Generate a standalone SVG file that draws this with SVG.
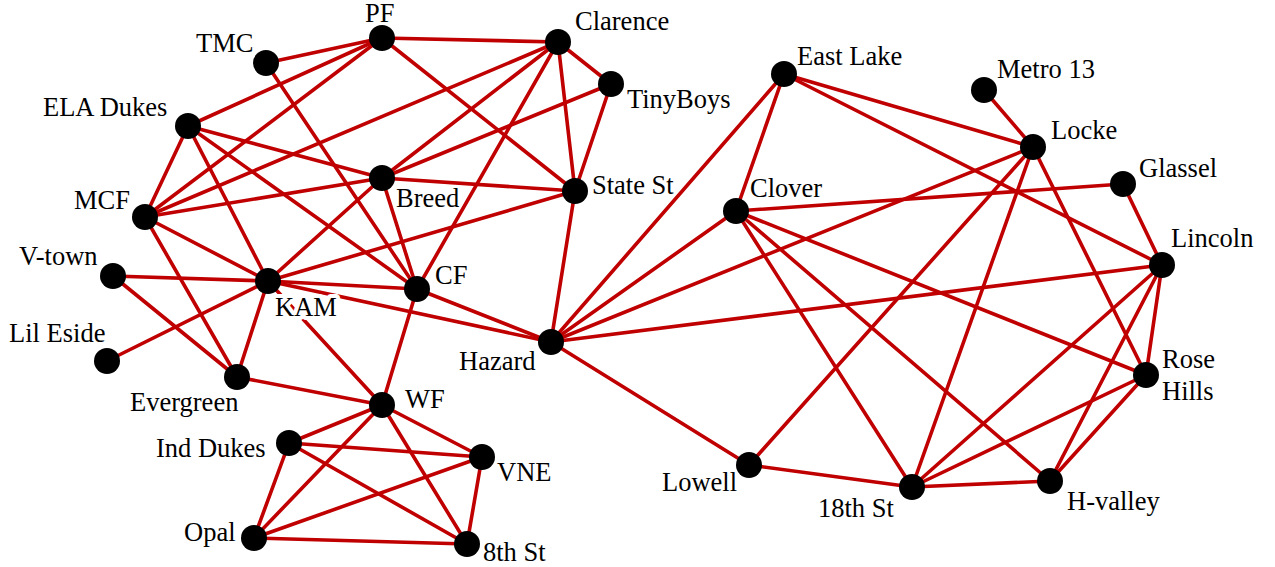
<svg xmlns="http://www.w3.org/2000/svg" width="1275" height="567" viewBox="0 0 1275 567">
  <style>
    .edges line { stroke: #c00000; stroke-width: 3.6; stroke-linecap: round; }
    .node circle { fill: #000; }
    .node text { font-family: "Times New Roman", Times, "Liberation Serif", Tinos, "Noto Serif", "DejaVu Serif", serif; font-size: 26.5px; fill: #000; }
    .node text.halo { stroke: #fff; stroke-width: 8; paint-order: stroke; stroke-linejoin: round; }
  </style>
  <rect x="0" y="0" width="1275" height="567" fill="#fff"/>

  <g id="connectors" class="edges">
    <!-- western cluster -->
    <line x1="266" y1="63" x2="382" y2="38"/>
    <line x1="266" y1="63" x2="417" y2="289"/>
    <line x1="382" y1="38" x2="558" y2="42"/>
    <line x1="382" y1="38" x2="188" y2="126"/>
    <line x1="382" y1="38" x2="145" y2="217"/>
    <line x1="382" y1="38" x2="575" y2="191"/>
    <line x1="558" y1="42" x2="611" y2="84"/>
    <line x1="558" y1="42" x2="575" y2="191"/>
    <line x1="558" y1="42" x2="145" y2="217"/>
    <line x1="558" y1="42" x2="382" y2="178"/>
    <line x1="558" y1="42" x2="417" y2="289"/>
    <line x1="611" y1="84" x2="575" y2="191"/>
    <line x1="611" y1="84" x2="382" y2="178"/>
    <line x1="188" y1="126" x2="145" y2="217"/>
    <line x1="188" y1="126" x2="382" y2="178"/>
    <line x1="188" y1="126" x2="417" y2="289"/>
    <line x1="188" y1="126" x2="268" y2="281"/>
    <line x1="145" y1="217" x2="382" y2="178"/>
    <line x1="145" y1="217" x2="268" y2="281"/>
    <line x1="145" y1="217" x2="237" y2="377"/>
    <line x1="382" y1="178" x2="575" y2="191"/>
    <line x1="382" y1="178" x2="268" y2="281"/>
    <line x1="382" y1="178" x2="417" y2="289"/>
    <line x1="575" y1="191" x2="268" y2="281"/>
    <line x1="575" y1="191" x2="551" y2="342"/>
    <line x1="113" y1="276" x2="268" y2="281"/>
    <line x1="113" y1="276" x2="237" y2="377"/>
    <line x1="107" y1="361" x2="268" y2="281"/>
    <line x1="268" y1="281" x2="237" y2="377"/>
    <line x1="268" y1="281" x2="417" y2="289"/>
    <line x1="268" y1="281" x2="551" y2="342"/>
    <line x1="268" y1="281" x2="382" y2="405"/>
    <line x1="417" y1="289" x2="551" y2="342"/>
    <line x1="417" y1="289" x2="382" y2="405"/>
    <line x1="237" y1="377" x2="382" y2="405"/>
    <!-- southern group -->
    <line x1="382" y1="405" x2="289" y2="443"/>
    <line x1="382" y1="405" x2="482" y2="457"/>
    <line x1="382" y1="405" x2="254" y2="538"/>
    <line x1="382" y1="405" x2="467" y2="544"/>
    <line x1="289" y1="443" x2="482" y2="457"/>
    <line x1="289" y1="443" x2="254" y2="538"/>
    <line x1="289" y1="443" x2="467" y2="544"/>
    <line x1="254" y1="538" x2="482" y2="457"/>
    <line x1="254" y1="538" x2="467" y2="544"/>
    <line x1="482" y1="457" x2="467" y2="544"/>
    <!-- eastern cluster -->
    <line x1="551" y1="342" x2="784" y2="74"/>
    <line x1="551" y1="342" x2="736" y2="211"/>
    <line x1="551" y1="342" x2="1033" y2="147"/>
    <line x1="551" y1="342" x2="1162" y2="265"/>
    <line x1="551" y1="342" x2="749" y2="465"/>
    <line x1="784" y1="74" x2="736" y2="211"/>
    <line x1="784" y1="74" x2="1033" y2="147"/>
    <line x1="784" y1="74" x2="1162" y2="265"/>
    <line x1="984" y1="90" x2="1033" y2="147"/>
    <line x1="1033" y1="147" x2="749" y2="465"/>
    <line x1="1033" y1="147" x2="912" y2="487"/>
    <line x1="1033" y1="147" x2="1146" y2="375"/>
    <line x1="1123" y1="184" x2="736" y2="211"/>
    <line x1="1123" y1="184" x2="1162" y2="265"/>
    <line x1="736" y1="211" x2="912" y2="487"/>
    <line x1="736" y1="211" x2="1050" y2="481"/>
    <line x1="736" y1="211" x2="1146" y2="375"/>
    <line x1="1162" y1="265" x2="1146" y2="375"/>
    <line x1="1162" y1="265" x2="1050" y2="481"/>
    <line x1="1162" y1="265" x2="912" y2="487"/>
    <line x1="1146" y1="375" x2="912" y2="487"/>
    <line x1="1146" y1="375" x2="1050" y2="481"/>
    <line x1="912" y1="487" x2="1050" y2="481"/>
    <line x1="912" y1="487" x2="749" y2="465"/>
  </g>

  <g id="node-pf" class="node"><circle cx="382" cy="38" r="13"/><text x="365" y="22">PF</text></g>
  <g id="node-tmc" class="node"><circle cx="266" cy="63" r="13"/><text x="196" y="52">TMC</text></g>
  <g id="node-clarence" class="node"><circle cx="558" cy="42" r="13"/><text x="575" y="30">Clarence</text></g>
  <g id="node-tinyboys" class="node"><circle cx="611" cy="84" r="13"/><text x="627" y="108">TinyBoys</text></g>
  <g id="node-ela-dukes" class="node"><circle cx="188" cy="126" r="13"/><text x="43" y="116">ELA Dukes</text></g>
  <g id="node-mcf" class="node"><circle cx="145" cy="217" r="13"/><text x="74" y="209">MCF</text></g>
  <g id="node-breed" class="node"><circle cx="382" cy="178" r="13"/><text x="396" y="207">Breed</text></g>
  <g id="node-state-st" class="node"><circle cx="575" cy="191" r="13"/><text x="592" y="194">State St</text></g>
  <g id="node-v-town" class="node"><circle cx="113" cy="276" r="13"/><text x="19" y="265">V-town</text></g>
  <g id="node-kam" class="node"><circle cx="268" cy="281" r="13"/><text class="halo" x="275" y="316">KAM</text></g>
  <g id="node-cf" class="node"><circle cx="417" cy="289" r="13"/><text x="435" y="284">CF</text></g>
  <g id="node-lil-eside" class="node"><circle cx="107" cy="361" r="13"/><text x="9" y="342">Lil Eside</text></g>
  <g id="node-evergreen" class="node"><circle cx="237" cy="377" r="13"/><text x="130" y="411">Evergreen</text></g>
  <g id="node-hazard" class="node"><circle cx="551" cy="342" r="13"/><text x="459" y="370">Hazard</text></g>
  <g id="node-wf" class="node"><circle cx="382" cy="405" r="13"/><text x="405" y="408">WF</text></g>
  <g id="node-ind-dukes" class="node"><circle cx="289" cy="443" r="13"/><text x="156" y="457">Ind Dukes</text></g>
  <g id="node-vne" class="node"><circle cx="482" cy="457" r="13"/><text x="497" y="481">VNE</text></g>
  <g id="node-opal" class="node"><circle cx="254" cy="538" r="13"/><text x="184" y="541">Opal</text></g>
  <g id="node-8th-st" class="node"><circle cx="467" cy="544" r="13"/><text x="483" y="561">8th St</text></g>
  <g id="node-east-lake" class="node"><circle cx="784" cy="74" r="13"/><text x="797" y="65">East Lake</text></g>
  <g id="node-metro-13" class="node"><circle cx="984" cy="90" r="13"/><text x="997" y="78">Metro 13</text></g>
  <g id="node-locke" class="node"><circle cx="1033" cy="147" r="13"/><text x="1051" y="139">Locke</text></g>
  <g id="node-glassel" class="node"><circle cx="1123" cy="184" r="13"/><text x="1139" y="177">Glassel</text></g>
  <g id="node-clover" class="node"><circle cx="736" cy="211" r="13"/><text x="750" y="197">Clover</text></g>
  <g id="node-lincoln" class="node"><circle cx="1162" cy="265" r="13"/><text x="1171" y="247">Lincoln</text></g>
  <g id="node-rose-hills" class="node"><circle cx="1146" cy="375" r="13"/><text x="1162" y="368">Rose</text><text x="1162" y="400">Hills</text></g>
  <g id="node-lowell" class="node"><circle cx="749" cy="465" r="13"/><text x="662" y="491">Lowell</text></g>
  <g id="node-18th-st" class="node"><circle cx="912" cy="487" r="13"/><text x="818" y="517">18th St</text></g>
  <g id="node-h-valley" class="node"><circle cx="1050" cy="481" r="13"/><text x="1067" y="510">H-valley</text></g>
</svg>
